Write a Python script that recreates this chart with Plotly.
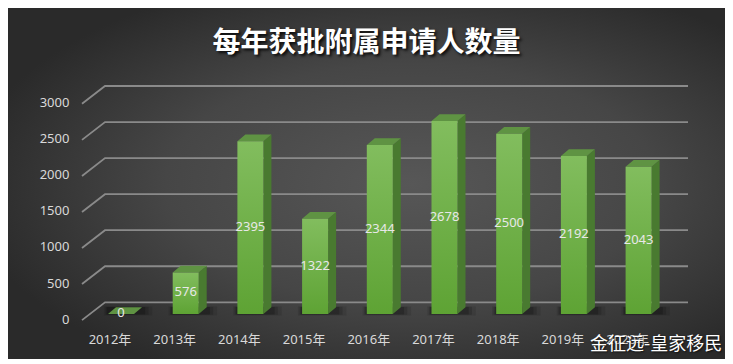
import base64
import plotly.graph_objects as go

# ---------------- data ----------------
categories = ["2012年", "2013年", "2014年", "2015年", "2016年",
              "2017年", "2018年", "2019年", "2020年"]
values = [0, 576, 2395, 1322, 2344, 2678, 2500, 2192, 2043]
tick_values = [0, 500, 1000, 1500, 2000, 2500, 3000]
tick_labels = ["0", "500", "1000", "1500", "2000", "2500", "3000"]
title_text = "每年获批附属申请人数量"
watermark_text = "金征远-皇家移民"

# ---------------- geometry (pixels, page body has an 8px margin) ----------------
OFF = 8
W, H = 733 - OFF, 364 - OFF
L, T = 78 - OFF, 60 - OFF
plot_right, plot_bottom = 700 - OFF, 330 - OFF
R, B = W - plot_right, H - plot_bottom
plot_w = W - L - R
plot_h = H - T - B
px_cat = 64.7          # pixels per category
px_unit = 0.0721       # pixels per value unit
first_center_px = 121 - OFF
base_px = 314 - OFF    # pixel row of value 0 for bars
label_zero_px = 319 - OFF

x0 = -(first_center_px - L) / px_cat
x1 = x0 + plot_w / px_cat
y_range = [(base_px - plot_bottom) / px_unit, (base_px - T) / px_unit]
y2_range = [(label_zero_px - plot_bottom) / px_unit, (label_zero_px - T) / px_unit]

bar_w = 26 / px_cat
depth_x = 8 / px_cat
depth_y = 6.7 / px_unit

grid_front_x = x0 + 4 / px_cat
grid_back_x = x0 + 27 / px_cat
grid_end_x = x0 + (688 - OFF - L) / px_cat
grid_back_off = 162
grid_front_off = -85

FONT = "Noto Sans, Noto Sans CJK SC, sans-serif"

fig = go.Figure()

# gridlines (3D wall style)
gx, gy = [], []
for v in tick_values:
    gx += [grid_front_x, grid_back_x, grid_end_x, None]
    gy += [v + grid_front_off, v + grid_back_off, v + grid_back_off, None]
fig.add_trace(go.Scatter(x=gx, y=gy, mode="lines",
                         line=dict(color="#8a8a8a", width=1.8),
                         hoverinfo="skip", showlegend=False))

# soft floor shadows (layered)
for spread, alpha in [(0.16, 0.10), (0.10, 0.14), (0.05, 0.18)]:
    sx, sy = [], []
    for i, v in enumerate(values):
        xl = i - bar_w / 2
        xr = i + bar_w / 2 + depth_x
        sx += [xl - spread * 0.4, xr + spread, xr + spread, xl - spread * 0.4, None]
        sy += [-spread * 120, -spread * 120, depth_y + spread * 60, depth_y + spread * 60, None]
    fig.add_trace(go.Scatter(x=sx, y=sy, mode="lines", fill="toself",
                             fillcolor=f"rgba(0,0,0,{alpha})", line=dict(width=0),
                             hoverinfo="skip", showlegend=False))

# side faces
sdx, sdy = [], []
for i, v in enumerate(values):
    xr = i + bar_w / 2
    sdx += [xr, xr + depth_x, xr + depth_x, xr, xr, None]
    sdy += [0, depth_y, v + depth_y, v, 0, None]
fig.add_trace(go.Scatter(x=sdx, y=sdy, mode="lines", fill="toself",
                         fillcolor="#497a30", line=dict(width=0),
                         hoverinfo="skip", showlegend=False))

# top faces
tx, ty = [], []
for i, v in enumerate(values):
    xl = i - bar_w / 2
    xr = i + bar_w / 2
    tx += [xl, xl + depth_x, xr + depth_x, xr, xl, None]
    ty += [v, v + depth_y, v + depth_y, v, v, None]
fig.add_trace(go.Scatter(x=tx, y=ty, mode="lines", fill="toself",
                         fillcolor="#5f9343", line=dict(width=0),
                         hoverinfo="skip", showlegend=False))

# front faces (one trace each so each has its own gradient)
for i, v in enumerate(values):
    if v <= 0:
        continue
    xl = i - bar_w / 2
    xr = i + bar_w / 2
    fig.add_trace(go.Scatter(
        x=[xl, xr, xr, xl, xl], y=[0, 0, v, v, 0], mode="lines", fill="toself",
        fillgradient=dict(type="vertical",
                          colorscale=[[0, "#5ea334"], [1, "#82bd5e"]]),
        line=dict(width=0), hoverinfo="skip", showlegend=False))

# value labels
fig.add_trace(go.Scatter(
    x=list(range(len(values))), y=[v / 2 for v in values],
    mode="text", text=[str(v) for v in values],
    textfont=dict(family=FONT, size=13, color="#e8e8e8"),
    textposition="middle center", hoverinfo="skip", showlegend=False))

# dummy trace to activate the tick-label axis
fig.add_trace(go.Scatter(x=[x0], y=[0], yaxis="y2", mode="markers",
                         marker=dict(opacity=0), hoverinfo="skip", showlegend=False))

# background
svg = ('<svg xmlns="http://www.w3.org/2000/svg" width="721" height="356">'
       '<defs><radialGradient id="g" cx="56%" cy="50%" r="62%">'
       '<stop offset="0" stop-color="#575757"/>'
       '<stop offset="0.55" stop-color="#464646"/>'
       '<stop offset="1" stop-color="#2a2a2a"/></radialGradient></defs>'
       '<rect width="721" height="356" fill="url(#g)"/></svg>')
svg_uri = "data:image/svg+xml;base64," + base64.b64encode(svg.encode()).decode()
bg_left, bg_right, bg_top, bg_bottom = 0, 728 - OFF, 0, 359 - OFF

fig.update_layout(
    width=W, height=H,
    margin=dict(l=L, r=R, t=T, b=B, pad=0),
    paper_bgcolor="white",
    plot_bgcolor="rgba(0,0,0,0)",
    showlegend=False,
    images=[dict(source=svg_uri, xref="paper", yref="paper",
                 x=(bg_left - L) / plot_w, y=(plot_bottom - bg_top) / plot_h,
                 sizex=(bg_right - bg_left) / plot_w,
                 sizey=(bg_bottom - bg_top) / plot_h,
                 sizing="stretch", xanchor="left", yanchor="top",
                 layer="below")],
    title=dict(text=title_text, x=0.5 - 4 / W, xanchor="center",
               y=1 - (42 - OFF) / H, yanchor="middle", yref="container",
               font=dict(family="Noto Sans CJK SC", size=28, color="white",
                         weight=700, shadow="2px 2px 3px rgba(0,0,0,0.85)")),
    xaxis=dict(range=[x0, x1], showgrid=False, zeroline=False,
               tickvals=[i - 0.17 for i in range(len(categories))],
               ticktext=categories, ticks="",
               tickfont=dict(family=FONT, size=13, color="#d9d9d9"),
               showline=False, fixedrange=True),
    yaxis=dict(range=y_range, showgrid=False, zeroline=False,
               showticklabels=False, showline=False, fixedrange=True),
    yaxis2=dict(range=y2_range, overlaying="y", side="left",
                showgrid=False, zeroline=False, showline=False,
                tickvals=tick_values, ticktext=tick_labels,
                ticks="outside", ticklen=5, tickcolor="rgba(0,0,0,0)",
                tickfont=dict(family=FONT, size=13, color="#d9d9d9"),
                fixedrange=True),
    annotations=[dict(text=watermark_text, xref="paper", yref="paper",
                      x=(588 - OFF - L) / plot_w, y=(plot_bottom - (342 - OFF)) / plot_h,
                      xanchor="left", yanchor="middle", showarrow=False,
                      font=dict(family="Noto Sans CJK SC", size=18,
                                color="white",
                                shadow="1px 1px 2px rgba(0,0,0,0.7)"))],
)

fig.write_html("out.html")
